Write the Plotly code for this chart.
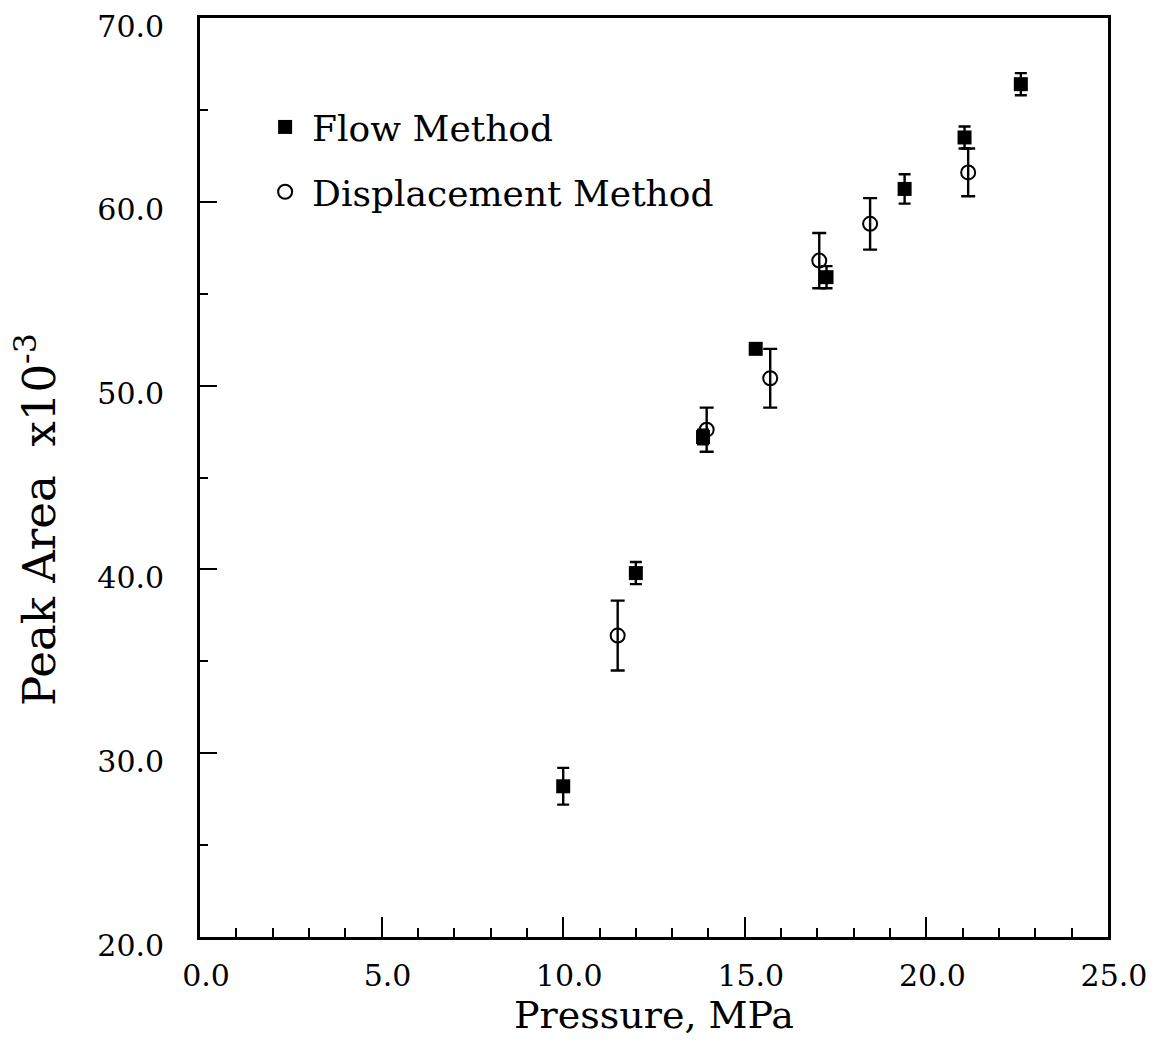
import plotly.graph_objects as go

# Flow Method (filled squares)
flow_p = [10.0, 12.0, 13.85, 15.3, 17.25, 19.4, 21.05, 22.6]
flow_a = [28.2, 39.8, 47.2, 52.0, 55.9, 60.7, 63.5, 66.4]
flow_err = [1.0, 0.6, 0.4, 0.2, 0.6, 0.8, 0.6, 0.6]

# Displacement Method (open circles)
disp_p = [11.5, 13.95, 15.7, 17.05, 18.45, 21.15]
disp_a = [36.4, 47.6, 50.4, 56.8, 58.8, 61.6]
disp_err = [1.9, 1.2, 1.6, 1.5, 1.4, 1.3]

x_ticks = [0, 5, 10, 15, 20, 25]
x_labels = ["0.0", "5.0", "10.0", "15.0", "20.0", "25.0"]
y_ticks = [20, 30, 40, 50, 60, 70]
y_labels = ["20.0", "30.0", "40.0", "50.0", "60.0", "70.0"]

x_title = "Pressure, MPa"
y_title = "Peak Area  x10<sup>-3</sup>"

FONT = "DejaVu Serif"

fig = go.Figure()
fig.add_trace(go.Scatter(
    x=flow_p, y=flow_a, mode="markers", name="Flow Method",
    legendgroup="a",
    marker=dict(symbol="square", size=14, color="black"),
    error_y=dict(type="data", array=flow_err, color="black", thickness=2.4, width=6),
))
fig.add_trace(go.Scatter(
    x=disp_p, y=disp_a, mode="markers", name="Displacement Method",
    legendgroup="b",
    marker=dict(symbol="circle-open", size=14, color="black", line=dict(width=2)),
    error_y=dict(type="data", array=disp_err, color="black", thickness=2.4, width=7),
))

fig.update_layout(
    width=1141, height=1029,
    margin=dict(l=192, r=41, t=10, b=100, autoexpand=False),
    paper_bgcolor="white", plot_bgcolor="white",
    font=dict(family=FONT, color="black", size=30),
    showlegend=True,
    legend=dict(x=0.064, y=0.914, xanchor="left", yanchor="top",
                font=dict(family=FONT, size=36, color="black"),
                bgcolor="rgba(0,0,0,0)", traceorder="grouped",
                tracegroupgap=15, itemwidth=44),
    annotations=[dict(
        text=y_title, textangle=-90, showarrow=False,
        xref="paper", yref="paper", x=0, y=0.4538,
        xanchor="center", yanchor="middle", xshift=-163,
        font=dict(family=FONT, size=45, color="black"),
    )],
)
fig.update_xaxes(
    range=[0, 25], tickvals=x_ticks, ticktext=x_labels,
    showgrid=False, zeroline=False, automargin=False,
    showline=True, linecolor="black", linewidth=2.8, mirror=True,
    ticks="inside", ticklen=20, tickwidth=2, tickcolor="black",
    minor=dict(dtick=1, ticks="inside", ticklen=9, tickwidth=2, tickcolor="black", showgrid=False),
    tickfont=dict(family=FONT, size=30),
    ticklabelstandoff=10, ticklabelshift=6, ticklabeloverflow="allow",
    title=dict(text=x_title, font=dict(family=FONT, size=38), standoff=15),
)
fig.update_yaxes(
    range=[20, 70], tickvals=y_ticks, ticktext=y_labels,
    showgrid=False, zeroline=False, automargin=False,
    showline=True, linecolor="black", linewidth=2.8, mirror=True,
    ticks="inside", ticklen=17, tickwidth=2, tickcolor="black",
    minor=dict(dtick=5, ticks="inside", ticklen=8, tickwidth=2, tickcolor="black", showgrid=False),
    tickfont=dict(family=FONT, size=30),
    ticklabelstandoff=27, ticklabelshift=8, ticklabeloverflow="allow",
)

fig.write_html("out.html")
